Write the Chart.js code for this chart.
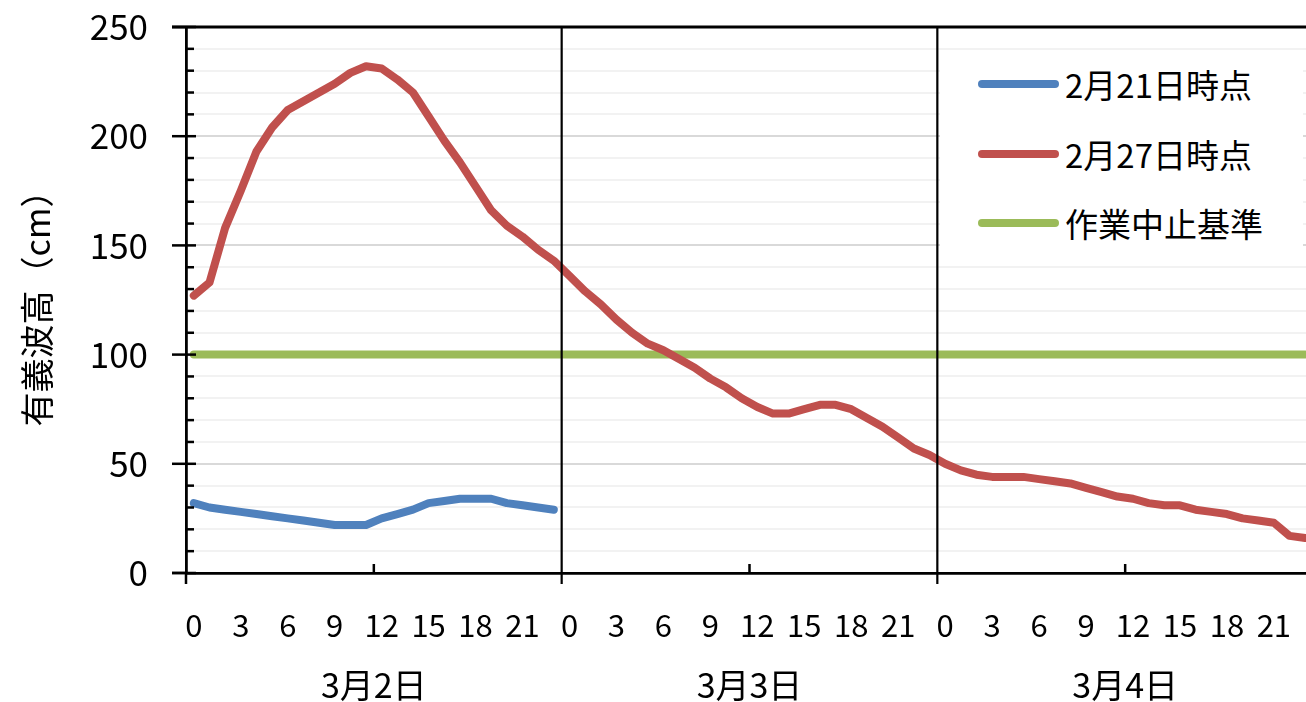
<!DOCTYPE html>
<html><head><meta charset="utf-8">
<script src="https://cdn.jsdelivr.net/npm/chart.js@4"></script>
<style>
html,body{margin:0;padding:0;background:#fff;overflow:hidden;width:1306px;height:702px;}
#wrap{position:absolute;left:0;top:0;width:1320px;height:702px;}
#legend{position:absolute;left:940px;top:56px;width:363px;height:202px;background:#fff;font-family:"Noto Sans CJK JP",sans-serif;}
.item{position:absolute;left:38px;height:40px;display:flex;align-items:center;white-space:nowrap;}
.sw{width:81px;height:8px;border-radius:4px;margin-right:6px;}
.lb{font-size:33px;color:#000;line-height:40px;}
</style></head>
<body>
<div id="wrap"><canvas id="c" width="1320" height="702"></canvas><div id="legend"></div></div>
<script>
const hourLabels = [0,1,2,3,4,5,6,7,8,9,10,11,12,13,14,15,16,17,18,19,20,21,22,23,
                    0,1,2,3,4,5,6,7,8,9,10,11,12,13,14,15,16,17,18,19,20,21,22,23,
                    0,1,2,3,4,5,6,7,8,9,10,11,12,13,14,15,16,17,18,19,20,21,22,23];
const dayLabels = ['3月2日','3月3日','3月4日'];
const yTickLabels = [0,50,100,150,200,250];
const seriesNames = ['2月21日時点','2月27日時点','作業中止基準'];
const forecastFeb21 = [32,30,29,28,27,26,25,24,23,22,22,22,25,27,29,32,33,34,34,34,32,31,30,29,
                       null,null,null,null,null,null,null,null,null,null,null,null,null,null,null,null,null,null,null,null,null,null,null,null,
                       null,null,null,null,null,null,null,null,null,null,null,null,null,null,null,null,null,null,null,null,null,null,null,null];
const forecastFeb27 = [127,133,158,175,193,204,212,216,220,224,229,232,231,226,220,209,198,188,177,166,159,154,148,143,
                       136,129,123,116,110,105,102,98,94,89,85,80,76,73,73,75,77,77,75,71,67,62,57,54,
                       50,47,45,44,44,44,43,42,41,39,37,35,34,32,31,31,29,28,27,25,24,23,17,16];
const stopCriterion = [100,100,100,100,100,100,100,100,100,100,100,100,100,100,100,100,100,100,100,100,100,100,100,100,
                       100,100,100,100,100,100,100,100,100,100,100,100,100,100,100,100,100,100,100,100,100,100,100,100,
                       100,100,100,100,100,100,100,100,100,100,100,100,100,100,100,100,100,100,100,100,100,100,100,100];
const colors = ['#4f81bd','#c0504d','#9bbb59'];

const FF = '"Noto Sans CJK JP", sans-serif';
Chart.defaults.font.family = FF;
Chart.defaults.color = '#000';

function noOverflow(s){ s.paddingLeft = 0; s.paddingRight = 0; s.paddingTop = 0; s.paddingBottom = 0; }

const axisDeco = {
  id:'axisDeco',
  afterDraw(chart){
    const ctx = chart.ctx, a = chart.chartArea, x = chart.scales.x, y = chart.scales.y;
    const half = (x.getPixelForValue(1) - x.getPixelForValue(0))/2;
    ctx.save();
    ctx.strokeStyle = '#000';
    ctx.fillStyle = '#000';
    ctx.lineCap = 'butt';
    hourLabels.forEach((h,i)=>{
      const px = x.getPixelForValue(i) - half;
      if (h === 0 && i > 0) {
        ctx.fillRect(px - 1.1, a.top, 2.2, a.bottom + 11 - a.top);
      } else if (h === 12) {
        ctx.fillRect(px - 1.25, a.bottom - 9, 2.5, 9);
      }
    });
    ctx.fillRect(a.left - 1.25, a.bottom, 2.5, 11);
    ctx.fillRect(a.left - 14, a.bottom - 1.25, 14, 2.5);
    // top frame line at the axis maximum
    ctx.fillRect(a.left - 14, a.top - 1.5, a.right - a.left + 14, 3);
    y.ticks.forEach(t=>{
      const py = y.getPixelForValue(t.value);
      if (yTickLabels.includes(t.value)) ctx.fillRect(a.left - 14, py - 1.25, 24, 2.5);
      else ctx.fillRect(a.left, py - 1.25, 8, 2.5);
    });
    ctx.restore();
  }
};

const chart = new Chart(document.getElementById('c'), {
  type:'line',
  data:{
    labels: hourLabels,
    datasets:[
      {label:seriesNames[0], data:forecastFeb21, borderColor:colors[0], backgroundColor:colors[0]},
      {label:seriesNames[1], data:forecastFeb27, borderColor:colors[1], backgroundColor:colors[1]},
      {label:seriesNames[2], data:stopCriterion, borderColor:colors[2], backgroundColor:colors[2]}
    ]
  },
  options:{
    responsive:false, animation:false, devicePixelRatio:1,
    layout:{padding:{left:0, top:27, right:7, bottom:0}},
    elements:{
      point:{radius:0, hoverRadius:0},
      line:{borderWidth:8, tension:0, borderCapStyle:'round', borderJoinStyle:'round', fill:false}
    },
    plugins:{legend:{display:false}, tooltip:{enabled:false}, title:{display:false}},
    scales:{
      x:{
        type:'category', offset:true, position:'bottom',
        grid:{display:false, drawTicks:false},
        border:{display:true, color:'#000', width:2.8},
        ticks:{autoSkip:false, maxRotation:0, minRotation:0, padding:34, color:'#000',
               font:{size:31, lineHeight:1.2},
               callback:(v,i)=> (hourLabels[i] % 3 === 0) ? String(hourLabels[i]) : ''},
        afterFit:s=>{ s.height = 80; noOverflow(s); }
      },
      x2:{
        type:'category', labels:dayLabels, offset:true, position:'bottom',
        grid:{display:false, drawTicks:false}, border:{display:false},
        ticks:{autoSkip:false, maxRotation:0, minRotation:0, padding:12, color:'#000', font:{size:34, lineHeight:1.2}},
        afterFit:s=>{ s.height = 49; noOverflow(s); }
      },
      y:{
        min:0, max:250,
        grid:{drawTicks:false,
              color:c=> c.tick.value % 50 === 0 ? '#d9d9d9' : '#f2f2f2',
              lineWidth:2},
        border:{display:true, color:'#000', width:2.8},
        ticks:{stepSize:10, autoSkip:false, padding:38, color:'#000', font:{size:35, lineHeight:1.2},
               callback:v=> yTickLabels.includes(v) ? String(v) : ''},
        title:{display:true, text:'有義波高（cm）', color:'#000', font:{size:34, lineHeight:1.2}, padding:{top:17, bottom:0}},
        afterFit:s=>{ s.width = 186; noOverflow(s); }
      }
    }
  },
  plugins:[axisDeco]
});

const lg = document.getElementById('legend');
chart.data.datasets.forEach((ds,i)=>{
  const it = document.createElement('div');
  it.className = 'item';
  it.style.top = (8 + i*69.5) + 'px';
  const sw = document.createElement('span'); sw.className='sw'; sw.style.background = ds.borderColor;
  const lb = document.createElement('span'); lb.className='lb'; lb.textContent = ds.label;
  it.appendChild(sw); it.appendChild(lb); lg.appendChild(it);
});
</script>
</body></html>
